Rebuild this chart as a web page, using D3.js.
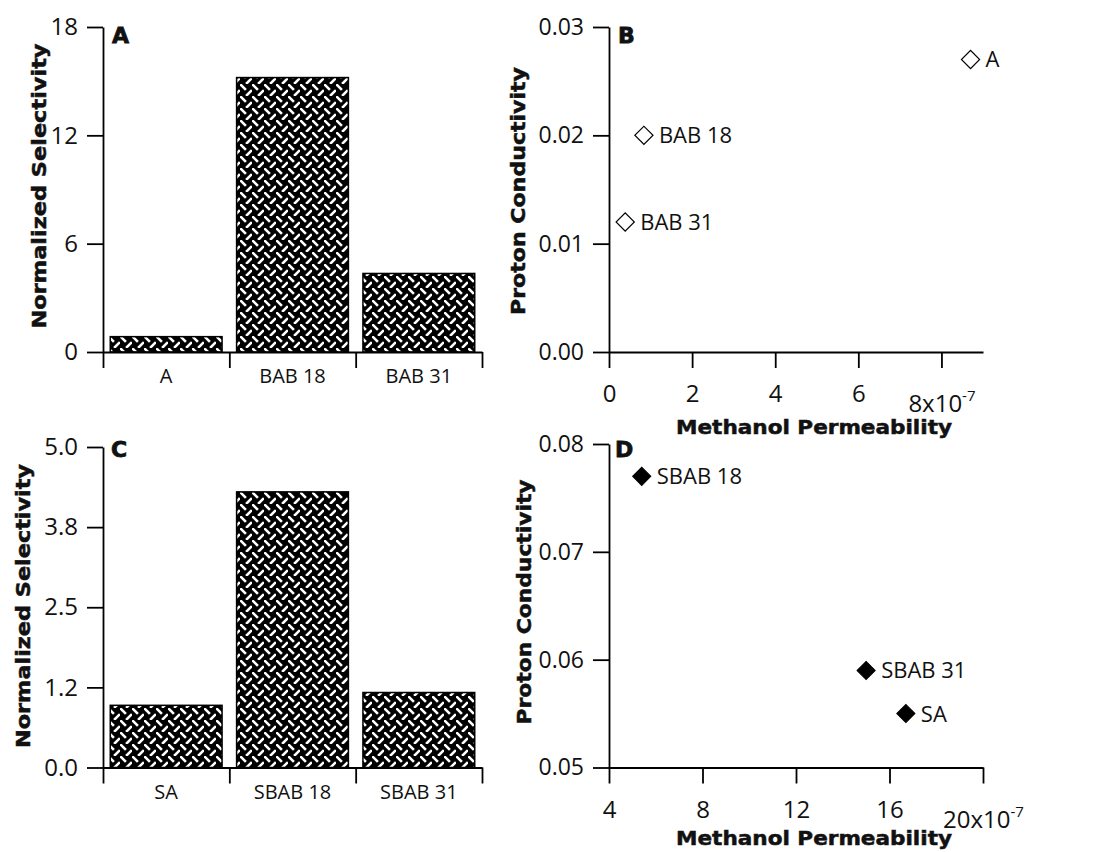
<!DOCTYPE html>
<html>
<head>
<meta charset="utf-8">
<script src="https://cdn.jsdelivr.net/npm/d3@7"></script>
<style>
  body { margin: 0; background: #fff; }
  svg text { fill: #111; }
</style>
</head>
<body>
<svg id="chart" width="1097" height="852"></svg>
<script>
// ---- data ----
var barCatsA = ["A", "BAB 18", "BAB 31"];
var barValsA = [0.85, 15.2, 4.35];
var barTicksA = [0, 6, 12, 18];

var barCatsC = ["SA", "SBAB 18", "SBAB 31"];
var barValsC = [0.97, 4.3, 1.17];
var barTicksC = [0, 1.25, 2.5, 3.75, 5];
var barTickLabelsC = ["0.0", "1.2", "2.5", "3.8", "5.0"];

var namesB = ["A", "BAB 18", "BAB 31"];
var permB = [8.7, 0.84, 0.39];
var condB = [0.027, 0.020, 0.012];
var xTicksB = [0, 2, 4, 6, 8];
var yTicksB = [0, 0.01, 0.02, 0.03];

var namesD = ["SBAB 18", "SBAB 31", "SA"];
var permD = [5.4, 15.0, 16.7];
var condD = [0.077, 0.059, 0.055];
var xTicksD = [4, 8, 12, 16, 20];
var yTicksD = [0.05, 0.06, 0.07, 0.08];

var tickFont = "'Open Sans', 'Noto Sans', sans-serif";
var titleFont = "'DejaVu Sans', sans-serif";

var svg = d3.select("#chart");

// basket-weave hatch used for the bars
var P = 12, h = 2.9;
var pat = svg.append("defs").append("pattern")
    .attr("id", "weave")
    .attr("patternUnits", "userSpaceOnUse")
    .attr("width", P).attr("height", P);
pat.append("rect").attr("width", P).attr("height", P).attr("fill", "#000");
pat.append("line").attr("x1", P / 4 - h).attr("y1", P / 4 - h).attr("x2", P / 4 + h).attr("y2", P / 4 + h);
pat.append("line").attr("x1", 3 * P / 4 - h).attr("y1", 3 * P / 4 + h).attr("x2", 3 * P / 4 + h).attr("y2", 3 * P / 4 - h);
pat.selectAll("line").attr("stroke", "#fff").attr("stroke-width", 2.6);

function styleAxis(g, fontSize) {
    g.select(".domain").attr("stroke", "#000").attr("stroke-width", 1.8);
    g.selectAll(".tick line").attr("stroke", "#000").attr("stroke-width", 1.8);
    g.selectAll(".tick text").attr("font-family", tickFont).attr("font-size", fontSize).attr("fill", "#111");
}

function panelLetter(x, y, txt) {
    svg.append("text").attr("x", x).attr("y", y).text(txt)
        .attr("font-family", titleFont).attr("font-weight", "bold").attr("font-size", 22)
        .attr("stroke", "#111").attr("stroke-width", 0.8);
}

function yTitle(x, y, txt, len) {
    svg.append("text")
        .attr("transform", "translate(" + x + "," + y + ") rotate(-90)")
        .attr("text-anchor", "middle").attr("dy", "0.35em")
        .attr("font-family", titleFont).attr("font-weight", "bold").attr("font-size", 19)
        .attr("stroke", "#111").attr("stroke-width", 0.5)
        .attr("textLength", len).attr("lengthAdjust", "spacingAndGlyphs")
        .text(txt);
}

function xTitle(x, y, txt) {
    svg.append("text").attr("x", x).attr("y", y)
        .attr("text-anchor", "middle")
        .attr("font-family", titleFont).attr("font-weight", "bold").attr("font-size", 19)
        .attr("stroke", "#111").attr("stroke-width", 0.5)
        .attr("textLength", 276).attr("lengthAdjust", "spacingAndGlyphs")
        .text(txt);
}

function barPanel(cats, vals, ticks, tickLabels, yTop, yBot, yMax) {
    var x = d3.scaleBand().domain(cats).range([103, 482]).paddingInner(0.115).paddingOuter(0.0575);
    var edges = d3.scaleLinear().domain([0, cats.length]).range([103, 482]);
    var y = d3.scaleLinear().domain([0, yMax]).range([yBot, yTop]);

    svg.selectAll(null).data(cats).enter().append("rect")
        .attr("x", function (d) { return x(d); })
        .attr("y", function (d, i) { return y(vals[i]); })
        .attr("width", x.bandwidth())
        .attr("height", function (d, i) { return yBot - y(vals[i]); })
        .attr("fill", "url(#weave)")
        .attr("stroke", "#000").attr("stroke-width", 1.5);

    var yAx = svg.append("g").attr("transform", "translate(103,0)")
        .call(d3.axisLeft(y).tickValues(ticks).tickSize(16).tickSizeOuter(0).tickPadding(9)
            .tickFormat(function (d, i) { return tickLabels[i]; }));
    styleAxis(yAx, 24);

    var xAx = svg.append("g").attr("transform", "translate(0," + yBot + ")")
        .call(d3.axisBottom(edges).tickValues(d3.range(cats.length + 1)).tickSize(16).tickSizeOuter(0).tickFormat(""));
    styleAxis(xAx, 20);

    var lab = svg.append("g").attr("transform", "translate(0," + yBot + ")")
        .call(d3.axisBottom(x).tickSize(0).tickPadding(17));
    lab.select(".domain").remove();
    styleAxis(lab, 20);
}

function scatterPanel(names, xs, ys, xTicks, yTicks, xDom, yDom, yTop, yBot, filled) {
    var x = d3.scaleLinear().domain(xDom).range([609, 983]);
    var y = d3.scaleLinear().domain(yDom).range([yBot, yTop]);

    var yAx = svg.append("g").attr("transform", "translate(609,0)")
        .call(d3.axisLeft(y).tickValues(yTicks).tickSize(16).tickSizeOuter(0).tickPadding(9)
            .tickFormat(d3.format(".2f")));
    styleAxis(yAx, 23);

    var xAx = svg.append("g").attr("transform", "translate(0," + yBot + ")")
        .call(d3.axisBottom(x).tickValues(xTicks).tickSize(16).tickSizeOuter(0).tickPadding(17)
            .tickFormat(d3.format("d")));
    styleAxis(xAx, 24);
    // last label carries the exponent, set a bit lower
    var last = xAx.selectAll(".tick text").filter(function (d) { return d === xTicks[xTicks.length - 1]; });
    last.attr("y", 43).text(last.text() + "x10");
    last.append("tspan").attr("dy", -11).attr("font-size", 15).text("-7");

    var sym = d3.symbol().type(d3.symbolSquare).size(165);
    svg.selectAll(null).data(names).enter().append("path")
        .attr("d", sym)
        .attr("transform", function (d, i) { return "translate(" + x(xs[i]) + "," + y(ys[i]) + ") rotate(45)"; })
        .attr("fill", filled ? "#000" : "#fff")
        .attr("stroke", "#000").attr("stroke-width", filled ? 1 : 1.2);

    svg.selectAll(null).data(names).enter().append("text")
        .attr("x", function (d, i) { return x(xs[i]) + 15; })
        .attr("y", function (d, i) { return y(ys[i]); })
        .attr("dy", "0.36em")
        .attr("font-family", tickFont).attr("font-size", 22)
        .text(function (d) { return d; });
}

// A: selectivity bars
barPanel(barCatsA, barValsA, barTicksA, barTicksA.map(String), 27, 352, 18);
panelLetter(112, 43, "A");
yTitle(39, 186, "Normalized Selectivity", 285);

// C: selectivity bars (sulfonated)
barPanel(barCatsC, barValsC, barTicksC, barTickLabelsC, 447, 767.5, 5);
panelLetter(111, 457, "C");
yTitle(23, 606, "Normalized Selectivity", 284);

// B: conductivity vs permeability
scatterPanel(namesB, permB, condB, xTicksB, yTicksB, [0, 9], [0, 0.03], 27, 352, false);
panelLetter(618, 43, "B");
yTitle(518, 191, "Proton Conductivity", 248);
xTitle(814, 434, "Methanol Permeability");

// D: conductivity vs permeability (sulfonated)
scatterPanel(namesD, permD, condD, xTicksD, yTicksD, [4, 20], [0.05, 0.08], 444, 767.5, true);
panelLetter(615, 457, "D");
yTitle(524, 602, "Proton Conductivity", 245);
xTitle(814, 845, "Methanol Permeability");
</script>
</body>
</html>
